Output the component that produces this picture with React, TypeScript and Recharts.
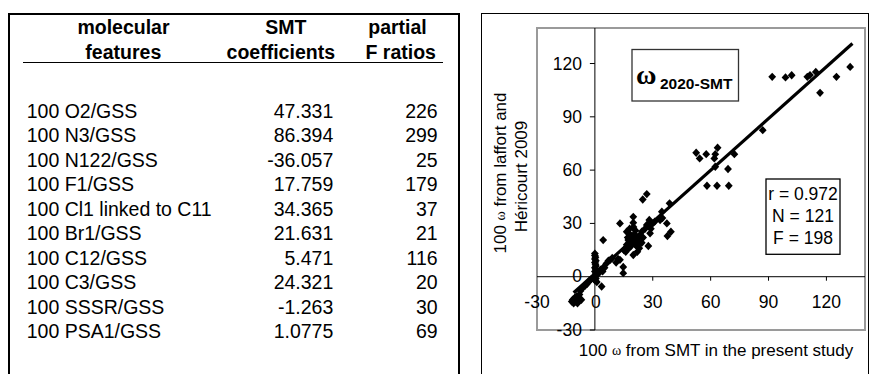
import React from 'react';
import { ScatterChart, Scatter, XAxis, YAxis, ReferenceLine, ReferenceArea, ReferenceDot } from 'recharts';

const HEADER_1 = ['molecular', 'SMT', 'partial'];
const HEADER_2 = ['features', 'coefficients', 'F ratios'];
const FEATURES = [
  '100 O2/GSS', '100 N3/GSS', '100 N122/GSS', '100 F1/GSS', '100 Cl1 linked to C11',
  '100 Br1/GSS', '100 C12/GSS', '100 C3/GSS', '100 SSSR/GSS', '100 PSA1/GSS',
];
const COEFFICIENTS = ['47.331', '86.394', '-36.057', '17.759', '34.365', '21.631', '5.471', '24.321', '-1.263', '1.0775'];
const F_RATIOS = ['226', '299', '25', '179', '37', '21', '116', '20', '30', '69'];

// [100 ω from SMT (present study), 100 ω from Laffort and Héricourt 2009]
const POINTS: [number, number][] = [
  // negative cluster
  [-12, -14], [-11.5, -13], [-11, -15], [-10.5, -12], [-10, -14], [-9.5, -11], [-9, -15], [-8.5, -13],
  [-8, -10], [-7.5, -8], [-7, -13], [-6, -6], [-5, -5], [-4, -4], [-3, -2.5], [-2, -1.5], [-1, -0.5],
  // near zero column
  [0, 13], [0, 12], [0.3, 11], [0, 10], [0.5, 9], [0, 8], [0.3, 7], [0.5, 6], [0, 5], [0.5, 4], [0, 3],
  [0.5, 2], [1, 1], [0, 0], [0, -2], [1, -3], [0.5, -1],
  // small values
  [3.5, -5.5], [2, 2], [3, 4], [4, 3], [4.3, 5], [5, 5], [6, 7.5], [7, 9], [8, 9.5], [9, 10.5],
  [4.3, 20.6], [13, 9.5], [14.7, 5.5], [14.7, 2], [11, 8], [12, 10],
  // mid cluster
  [13, 30], [16.5, 25.3], [17, 22], [17.3, 20.6], [16.5, 18], [18, 19], [18.5, 17], [19, 22.5], [19.5, 21],
  [19.9, 19.7], [19.9, 33.7], [19.9, 30.4], [19.9, 12.2], [20.5, 24], [21, 18], [21.7, 17.3], [22, 20],
  [22.5, 21.6], [23, 16], [23.5, 23], [24.3, 19.1], [24.3, 25.3], [24.8, 43.5], [26.9, 46.5], [26.9, 29.1],
  [27.7, 17.3], [28.2, 31.9], [28.6, 24.4], [29, 27], [30, 30], [31, 31], [33.8, 31.9], [34.7, 36.6],
  [37.3, 30], [37.6, 22.9], [38.7, 41.3], [39.4, 25.3], [25, 22], [26, 27], [18, 24], [21, 26], [15, 15],
  [16, 14], [17.5, 16], [20, 28], [22, 14], [18, 27], [23, 19], [35, 33],
  // around 60
  [52.5, 69.8], [54.3, 66.6], [57.7, 69], [63.6, 72.6], [62.4, 69], [61.9, 66.6], [62.4, 61.9],
  [58.1, 51.2], [63.3, 51.2], [69.4, 51.2], [69, 60.6], [72.3, 69],
  // top
  [87, 82.5], [91.9, 112.5], [98.8, 112.2], [102, 113.4], [110.1, 112.5], [111.5, 113.5], [114.5, 115.3],
  [116.7, 103.5], [125.2, 112.5], [132.3, 118.1],
];

const FIT_LINE = [{ x: -11, y: -9 }, { x: 133.5, y: 131.3 }];
const X_TICKS = [-30, 0, 30, 60, 90, 120];
const Y_TICKS = [-30, 0, 30, 60, 90, 120];
const DOMAIN: [number, number] = [-30, 140];
const STATS = ['r = 0.972', 'N = 121', 'F = 198'];
const X_TITLE = ['100 ', 'ω', ' from SMT in the present study'];
const Y_TITLE_1 = ['100 ', 'ω', ' from laffort and'];
const Y_TITLE_2 = 'Héricourt 2009';

const SANS = '"Liberation Sans", Arial, Helvetica, sans-serif';
const SERIF = '"Liberation Serif", "Times New Roman", serif';

const data = POINTS.map(([x, y]) => ({ x, y }));

const Diamond = (p: any) => {
  const { cx, cy } = p;
  if (cx == null || cy == null) return null;
  return <path d={`M${cx},${cy - 4.2}L${cx + 3.9},${cy}L${cx},${cy + 4.2}L${cx - 3.9},${cy}Z`} fill="#000" />;
};

const xTick = (v: number) => (p: any) => (
  <g>
    {v > 0 ? <line x1={p.cx} y1={p.cy} x2={p.cx} y2={p.cy + 4} stroke="#000" strokeWidth={1} /> : null}
    <text x={p.cx + (v === 0 ? 1 : 0)} y={p.cy + 25} textAnchor="middle" dominantBaseline="central"
      fontFamily={SANS} fontSize={17.5} fill="#000">{v}</text>
  </g>
);

const yTick = (v: number) => (p: any) => (
  <g>
    {v > 0 || v === -30 ? <line x1={p.cx - 5} y1={p.cy} x2={p.cx} y2={p.cy} stroke="#000" strokeWidth={1} /> : null}
    <text x={p.cx - 13} y={p.cy - (v === 0 ? 1 : 0)} textAnchor="end" dominantBaseline="central"
      fontFamily={SANS} fontSize={17.5} fill="#000">{v}</text>
  </g>
);

const ROW_TOP = 111;
const ROW_STEP = 24.44;

export default function App() {
  return (
    <div style={{ position: 'absolute', left: 0, top: 0, width: 869, height: 374, overflow: 'hidden', background: '#fff', fontFamily: SANS, color: '#000' }}>
      {/* table panel */}
      <div style={{ position: 'absolute', left: 7.5, top: 12.5, width: 448, height: 400, border: '2px solid #000' }} />
      {[123.5, 285.8, 397.5].map((cx, i) => (
        <div key={'h1' + i} style={{ position: 'absolute', left: cx - 100, width: 200, top: 26.7 - 12, height: 24, lineHeight: '24px', textAlign: 'center', fontWeight: 'bold', fontSize: 19.5 }}>{HEADER_1[i]}</div>
      ))}
      {[123.3, 280.8, 400.7].map((cx, i) => (
        <div key={'h2' + i} style={{ position: 'absolute', left: cx - 100, width: 200, top: 51.7 - 12, height: 24, lineHeight: '24px', textAlign: 'center', fontWeight: 'bold', fontSize: 19.5 }}>{HEADER_2[i]}</div>
      ))}
      <div style={{ position: 'absolute', left: 22.7, top: 61.5, width: 420.3, height: 0, borderTop: '1.7px solid #000' }} />
      {FEATURES.map((f, i) => {
        const cy = ROW_TOP + i * ROW_STEP;
        return (
          <React.Fragment key={f}>
            <div style={{ position: 'absolute', left: 26.7, top: cy - 12, height: 24, lineHeight: '24px', fontSize: 19.5, whiteSpace: 'nowrap' }}>{f}</div>
            <div style={{ position: 'absolute', left: 233.3, width: 100, top: cy - 12, height: 24, lineHeight: '24px', fontSize: 19.5, textAlign: 'right' }}>{COEFFICIENTS[i]}</div>
            <div style={{ position: 'absolute', left: 337.7, width: 100, top: cy - 12, height: 24, lineHeight: '24px', fontSize: 19.5, textAlign: 'right' }}>{F_RATIOS[i]}</div>
          </React.Fragment>
        );
      })}

      {/* chart panel */}
      <div style={{ position: 'absolute', left: 481, top: 13, width: 385.5, height: 400, border: '1.5px solid #000' }} />
      <div style={{ position: 'absolute', left: 482, top: 14 }}>
        <ScatterChart width={386} height={360} margin={{ left: 55, top: 14, right: 3, bottom: 44 }}>
          <XAxis type="number" dataKey="x" domain={DOMAIN} hide allowDataOverflow />
          <YAxis type="number" dataKey="y" domain={DOMAIN} hide allowDataOverflow />
          <ReferenceArea x1={DOMAIN[0]} x2={DOMAIN[1]} y1={DOMAIN[0]} y2={DOMAIN[1]} fill="none" stroke="#9a9a9a" strokeWidth={2} fillOpacity={0} ifOverflow="visible" />
          <ReferenceLine x={0} stroke="#000" strokeWidth={1} />
          <ReferenceLine y={0} stroke="#000" strokeWidth={1} />
          {X_TICKS.map((v) => (
            <ReferenceDot key={'xt' + v} x={v} y={0} r={0} ifOverflow="visible" shape={xTick(v)} />
          ))}
          {Y_TICKS.map((v) => (
            <ReferenceDot key={'yt' + v} x={0} y={v} r={0} ifOverflow="visible" shape={yTick(v)} />
          ))}
          <Scatter data={data} shape={Diamond} isAnimationActive={false} />
          <ReferenceLine segment={FIT_LINE} stroke="#000" strokeWidth={3.2} ifOverflow="visible" />
        </ScatterChart>
      </div>

      {/* overlays */}
      <svg width={869} height={374} style={{ position: 'absolute', left: 0, top: 0, pointerEvents: 'none' }}>
        <text x={716} y={350} textAnchor="middle" dominantBaseline="central" fontFamily={SANS} fontSize={17}>
          {X_TITLE[0]}<tspan fontFamily={SERIF} fontSize={14}>{X_TITLE[1]}</tspan>{X_TITLE[2]}
        </text>
        <text transform="translate(500,173) rotate(-90)" textAnchor="middle" dominantBaseline="central" fontFamily={SANS} fontSize={17}>
          {Y_TITLE_1[0]}<tspan fontFamily={SERIF} fontSize={14}>{Y_TITLE_1[1]}</tspan>{Y_TITLE_1[2]}
        </text>
        <text transform="translate(521.7,176.5) rotate(-90)" textAnchor="middle" dominantBaseline="central" fontFamily={SANS} fontSize={17}>
          {Y_TITLE_2}
        </text>
        <rect x={632} y={49.5} width={106.5} height={51.5} fill="#fff" stroke="#333" strokeWidth={1.3} />
        <text x={636} y={84} fontFamily={SERIF} fontWeight="bold" fontSize={28}>ω</text>
        <text x={660} y={89} fontFamily={SANS} fontWeight="bold" fontSize={15.5}>2020-SMT</text>
        <rect x={766} y={179} width={74} height={75.3} fill="#fff" stroke="#000" strokeWidth={1.3} />
        {STATS.map((s, i) => (
          <text key={s} x={803} y={194.3 + i * 22} textAnchor="middle" dominantBaseline="central" fontFamily={SANS} fontSize={17.5}>{s}</text>
        ))}
      </svg>
    </div>
  );
}
